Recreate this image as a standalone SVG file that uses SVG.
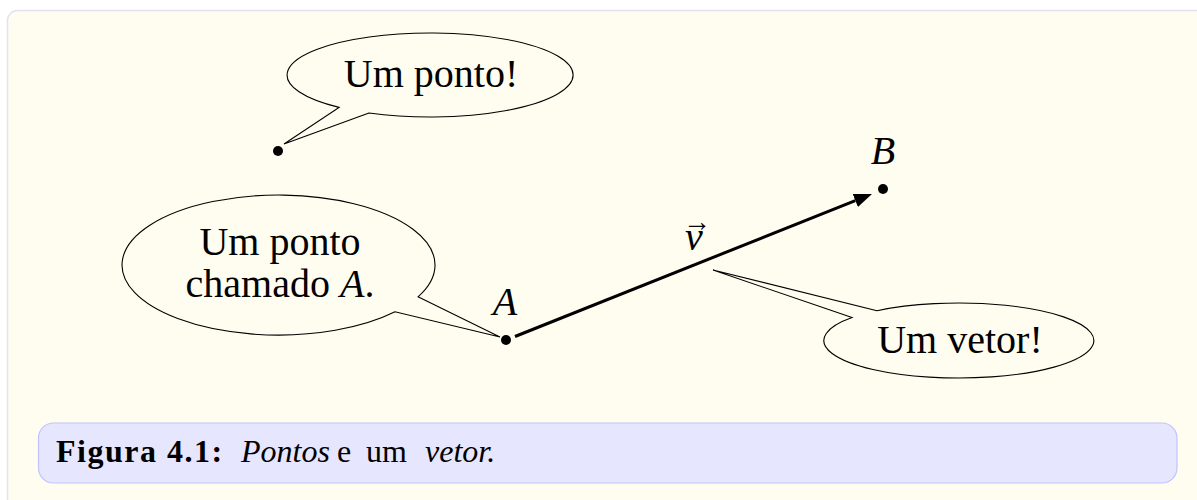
<svg xmlns="http://www.w3.org/2000/svg" width="1197" height="500" viewBox="0 0 1197 500">
<style>
.bubble{fill:#fffdf0;stroke:#000;stroke-width:1.1}
.t{font-family:"Liberation Serif","DejaVu Serif",serif;font-size:40px;fill:#000;text-anchor:middle}
.it{font-style:italic}
.dot{fill:#000}
.cap{font-family:"Liberation Serif","DejaVu Serif",serif;font-size:32px;fill:#000}
.acc{font-size:28px;font-style:normal}
</style>
<defs>
<marker id="ah" markerUnits="userSpaceOnUse" markerWidth="20" markerHeight="16" refX="0" refY="7" orient="auto">
<path d="M0,0 L18,7 L0,14 Z" fill="#000"/>
</marker>
</defs>
<rect x="0" y="0" width="1197" height="500" fill="#ffffff"/>
<rect x="7.5" y="10.5" width="1250" height="600" rx="10" fill="#fffdf0" stroke="#e2e2f4" stroke-width="1.5"/>

<g id="connectors">
<line x1="515" y1="336.5" x2="855.3" y2="200.6" stroke="#000" stroke-width="3" marker-end="url(#ah)"/>
</g>

<g id="point-lone">
<circle class="dot" cx="278" cy="151" r="5"/>
</g>
<g id="point-A">
<circle class="dot" cx="506" cy="340" r="5"/>
<text class="t it" x="505" y="315">A</text>
</g>
<g id="point-B">
<circle class="dot" cx="883" cy="189" r="5"/>
<text class="t it" x="883" y="164">B</text>
</g>
<g id="label-v">
<text class="t it"><tspan x="694" y="250">v</tspan><tspan class="acc" x="697" y="231">→</tspan></text>
</g>

<g id="bubble-ponto">
<path class="bubble" d="M369,113 L284,144 L339,107.4 A143,42 0 1 1 369,113 Z"/>
<text class="t" x="431" y="87">Um ponto!</text>
</g>
<g id="bubble-A">
<path class="bubble" d="M418,296.8 L500,337 L395,311.8 A156.5,70 0 1 1 418,296.8 Z"/>
<text class="t" x="280" y="255">Um ponto</text>
<text class="t" x="280" y="297">chamado <tspan class="it">A</tspan>.</text>
</g>
<g id="bubble-vetor">
<path class="bubble" d="M877,310.7 L713,270 L852,317.6 A135,37.5 0 1 0 877,310.7 Z"/>
<text class="t" x="960" y="353">Um vetor!</text>
</g>

<g id="caption">
<rect x="38.5" y="423" width="1138.5" height="60" rx="15" fill="#e6e6ff" stroke="#c2c2ff" stroke-width="1.2"/>
<text class="cap" x="56" y="462" font-weight="bold" letter-spacing="1.5">Figura 4.1:</text>
<text class="cap it" x="241" y="462">Pontos</text>
<text class="cap" x="337" y="462">e</text>
<text class="cap" x="366" y="462">um</text>
<text class="cap it" x="425" y="462">vetor.</text>
</g>
</svg>
